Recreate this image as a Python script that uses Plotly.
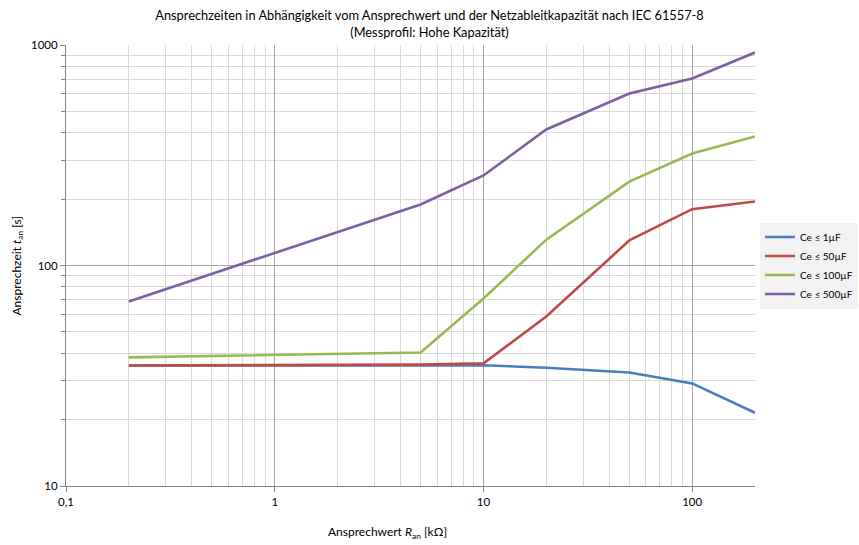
import plotly.graph_objects as go

r_an = [0.2, 5, 10, 20, 50, 100, 200]
t_1uF = [35.2, 35.4, 35.3, 34.4, 32.7, 29.2, 21.5]
t_50uF = [35.2, 35.5, 36.0, 58.7, 130, 180, 195]
t_100uF = [38.3, 40.3, 70.8, 131, 240, 322, 385]
t_500uF = [68.7, 189, 256, 414, 603, 705, 925]

series_names = ["Ce ≤ 1µF", "Ce ≤ 50µF", "Ce ≤ 100µF", "Ce ≤ 500µF"]
series_values = [t_1uF, t_50uF, t_100uF, t_500uF]
colors = ["#4a7ebb", "#be4b48", "#98b954", "#7d60a0"]

x_tickvals = [0.1, 1, 10, 100]
x_ticktext = ["0,1", "1", "10", "100"]
y_tickvals = [10, 100, 1000]
y_ticktext = ["10", "100", "1000"]

FONT = "Lato"
PL, PR, PT, PB = 66, 755, 45, 486

fig = go.Figure()
for name, vals, col in zip(series_names, series_values, colors):
    fig.add_trace(go.Scatter(x=r_an, y=vals, mode="lines", name=name,
                             line=dict(color=col, width=2.6)))

major = "#a6a6a6"
minorc = "#d9d9d9"

fig.update_layout(
    width=859, height=545,
    margin=dict(l=PL, r=859 - PR, t=PT, b=545 - PB, autoexpand=False),
    paper_bgcolor="white", plot_bgcolor="white",
    font=dict(family=FONT, size=11, color="#000000"),
    title=dict(text="Ansprechzeiten in Abhängigkeit vom Ansprechwert und der Netzableitkapazität nach IEC 61557-8<br>(Messprofil: Hohe Kapazität)",
               x=0.5, xref="container", xanchor="center",
               y=1 - 20 / 545, yref="container", yanchor="middle",
               font=dict(family=FONT, size=12.8)),
    legend=dict(x=(858 - PL) / (PR - PL), xanchor="right",
                y=0.5, yanchor="middle",
                bgcolor="#f2f2f2", font=dict(family=FONT, size=10),
                tracegroupgap=0, itemwidth=30),
    showlegend=True,
)

fig.update_xaxes(type="log", range=[-1, 2.30103],
                 tickvals=x_tickvals, ticktext=x_ticktext,
                 showgrid=True, gridcolor=major, gridwidth=1,
                 showline=True, linecolor="#868686", linewidth=1,
                 ticks="outside", ticklen=5, tickcolor="#868686",
                 minor=dict(showgrid=True, gridcolor=minorc, gridwidth=1,
                            dtick="D1", ticks=""),
                 tickfont=dict(family=FONT, size=11.5), zeroline=False)
fig.update_yaxes(type="log", range=[1, 3],
                 tickvals=y_tickvals, ticktext=y_ticktext,
                 showgrid=True, gridcolor=major, gridwidth=1,
                 showline=True, linecolor="#868686", linewidth=1,
                 ticks="outside", ticklen=5, tickcolor="#868686",
                 minor=dict(showgrid=True, gridcolor=minorc, gridwidth=1,
                            dtick="D1", ticks="outside", ticklen=4, tickcolor="#868686"),
                 tickfont=dict(family=FONT, size=11.5), zeroline=False)

fig.add_annotation(text="Ansprechwert <i>R</i><sub>an</sub> [kΩ]",
                   x=(387 - PL) / (PR - PL), xref="paper",
                   y=-(532 - PB) / (PB - PT), yref="paper",
                   xanchor="center", yanchor="middle", showarrow=False,
                   font=dict(family=FONT, size=12))
fig.add_annotation(text="Ansprechzeit <i>t</i><sub>an</sub> [s]",
                   x=-(PL - 17) / (PR - PL), xref="paper",
                   y=0.5, yref="paper", textangle=-90,
                   xanchor="center", yanchor="middle", showarrow=False,
                   font=dict(family=FONT, size=12))

fig.write_html("out.html")
